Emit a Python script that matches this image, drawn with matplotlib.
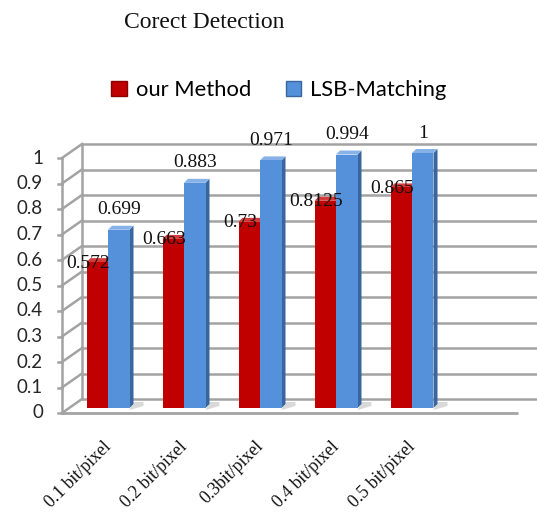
import matplotlib
matplotlib.use("Agg")
import matplotlib.pyplot as plt
from matplotlib.patches import Patch, Polygon
import numpy as np

# data
categories = ["0.1 bit/pixel", "0.2 bit/pixel", "0.3bit/pixel", "0.4 bit/pixel", "0.5 bit/pixel"]
our_method = [0.572, 0.663, 0.73, 0.8125, 0.865]
lsb_matching = [0.699, 0.883, 0.971, 0.994, 1]
our_labels = ["0.572", "0.663", "0.73", "0.8125", "0.865"]
lsb_labels = ["0.699", "0.883", "0.971", "0.994", "1"]
yticks = np.round(np.arange(0, 1.01, 0.1), 1)
ytick_labels = ["0", "0.1", "0.2", "0.3", "0.4", "0.5", "0.6", "0.7", "0.8", "0.9", "1"]

W, H = 537, 514
SERIF = "Liberation Serif"
SANS = "Lato"

fig = plt.figure(figsize=(W / 100, H / 100), dpi=100)
fig.patch.set_facecolor("white")

# plane of the bars, in pixels: x 72..528, y(0)=408, y(1)=153 from top
ax = fig.add_axes([72 / W, (H - 408) / H, 456 / W, 255 / H])
pxu = 76.0   # pixels per category
pyu = 255.0  # pixels per unit value
ax.set_xlim(-36 / pxu, 420 / pxu)
ax.set_ylim(0, 1)
ax.axis("off")
x0, x1 = ax.get_xlim()

def px(dx):
    return dx / pxu

def py(dy):
    return dy / pyu

# depth offsets of front and back planes
fx, fy = px(-10), py(-5)
bx, by = px(10), py(9)

grid_c = "#A3A3A3"
for y, lab in zip(yticks, ytick_labels):
    # back wall
    ax.plot([x0 + bx, x1 + bx], [y + by, y + by], color=grid_c, lw=1.8,
            clip_on=False, zorder=1, solid_capstyle="butt")
    # side wall
    ax.plot([x0 + fx, x0 + bx], [y + fy, y + by], color=grid_c, lw=1.8,
            clip_on=False, zorder=1)
    # tick mark on front edge
    ax.plot([x0 + fx - px(4), x0 + fx], [y + fy, y + fy], color=grid_c, lw=1.8,
            clip_on=False, zorder=1)
    ax.text(x0 + fx - px(19), y + fy, lab, ha="right", va="center",
            fontsize=13.5, family=SANS, color="#262626")

# wall edges and floor front
ax.plot([x0 + fx, x0 + fx], [fy, 1 + fy], color=grid_c, lw=1.8, clip_on=False, zorder=1)
ax.plot([x0 + bx, x0 + bx], [by, 1 + by], color=grid_c, lw=1.8, clip_on=False, zorder=1)
ax.plot([x0 + fx, x1 + fx], [fy, fy], color=grid_c, lw=2.0, clip_on=False, zorder=1,
        solid_capstyle="butt")

w = px(21.5)
dx, dy = px(4), py(4)
x = np.arange(len(categories))

series = [
    (our_method, -w / 2, "#C00000", "#850000", "#D63A3A"),
    (lsb_matching, w / 2, "#5590DA", "#3A659E", "#86B2E8"),
]

for i in x:
    # soft shadow on the floor behind each pair
    xr = i + w
    ax.add_patch(Polygon([(xr, -py(2)), (xr + px(14), py(2)), (xr + px(14), py(6)),
                          (xr + dx, py(6))], closed=True, fc="#D9D9D9", ec="none",
                         zorder=2, clip_on=False))
    for k, (vals, off, c_front, c_side, c_top) in enumerate(series):
        v = vals[i]
        xl = i + off - w / 2
        xr = i + off + w / 2
        z = 3 + k * 2
        side = Polygon([(xr, 0), (xr + dx, dy), (xr + dx, v + dy), (xr, v)],
                       closed=True, fc=c_side, ec="none", zorder=z, clip_on=False)
        top = Polygon([(xl, v), (xl + dx, v + dy), (xr + dx, v + dy), (xr, v)],
                      closed=True, fc=c_top, ec="none", zorder=z, clip_on=False)
        ax.add_patch(side)
        ax.add_patch(top)
    ax.bar(i - w / 2, our_method[i], width=w, color=series[0][2], zorder=4, clip_on=False)
    ax.bar(i + w / 2, lsb_matching[i], width=w, color=series[1][2], zorder=6, clip_on=False)

# value labels
for i in x:
    ax.text(i - w / 2 - px(9), our_method[i] - py(1), our_labels[i], ha="center",
            va="center", fontsize=14, family=SERIF, color="#111111", zorder=10)
    ax.text(i + w / 2, lsb_matching[i] + py(20), lsb_labels[i], ha="center",
            va="center", fontsize=14, family=SERIF, color="#111111", zorder=10)

# category labels
for i in x:
    ax.text(i - px(5), -py(30), categories[i], rotation=45, ha="right", va="top",
            rotation_mode="anchor", fontsize=12.8, family=SERIF, color="#111111")

fig.text(204 / W, 1 - 28 / H, "Corect Detection", ha="center", va="baseline",
         fontsize=17, family=SERIF, color="#111111")

handles = [Patch(fc="#C00000", ec="#8A0000"), Patch(fc="#5590DA", ec="#3A659E")]
fig.legend(handles, ["our Method", "LSB-Matching"], loc="center",
           bbox_to_anchor=(279 / W, 1 - 90 / H), ncol=2, frameon=False,
           prop={"family": SANS, "size": 15.8}, handlelength=0.7, handleheight=0.7,
           handletextpad=0.4, columnspacing=1.6)

fig.savefig("out.png", dpi=100, facecolor="white")
